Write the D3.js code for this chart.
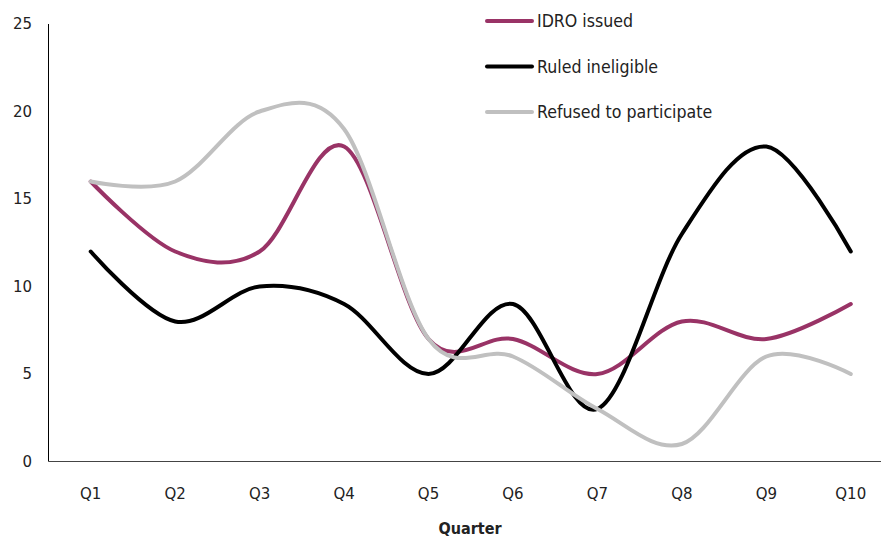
<!DOCTYPE html>
<html>
<head>
<meta charset="utf-8">
<script src="https://cdn.jsdelivr.net/npm/d3@7/dist/d3.min.js"></script>
<style>
  html, body { margin: 0; padding: 0; background: #fff; }
  svg { display: block; }
</style>
</head>
<body>
<svg id="chart" width="881" height="538"></svg>
<script>
// Quarterly counts per outcome
const quarters = ["Q1", "Q2", "Q3", "Q4", "Q5", "Q6", "Q7", "Q8", "Q9", "Q10"];
const idroIssued = [16, 12, 12, 18, 7, 7, 5, 8, 7, 9];
const ruledIneligible = [12, 8, 10, 9, 5, 9, 3, 13, 18, 12];
const refusedToParticipate = [16, 16, 20, 19, 7, 6, 3, 1, 6, 5];
const yTicks = [0, 5, 10, 15, 20, 25];

const seriesList = [
  { name: "IDRO issued", values: idroIssued, color: "#993366" },
  { name: "Ruled ineligible", values: ruledIneligible, color: "#000000" },
  { name: "Refused to participate", values: refusedToParticipate, color: "#c0c0c0" }
];

const svg = d3.select("#chart");
const plot = { left: 48.5, right: 893, top: 24, bottom: 461.5 };

const x = d3.scaleBand().domain(quarters).range([plot.left, plot.right]);
const y = d3.scaleLinear().domain([0, 25]).range([plot.bottom, plot.top]);

// Y axis: line plus plain tick labels
svg.append("line")
  .attr("x1", plot.left).attr("x2", plot.left)
  .attr("y1", plot.top).attr("y2", plot.bottom)
  .attr("stroke", "#000").attr("stroke-width", 1);

svg.append("g").selectAll("text")
  .data(yTicks)
  .join("text")
  .attr("x", 32)
  .attr("y", d => y(d))
  .attr("dy", "0.35em")
  .attr("text-anchor", "end")
  .attr("font-family", "DejaVu Sans")
  .attr("font-size", 15)
  .attr("fill", "#222")
  .text(d => d);

// X axis
svg.append("line")
  .attr("x1", plot.left).attr("x2", plot.right)
  .attr("y1", plot.bottom).attr("y2", plot.bottom)
  .attr("stroke", "#444").attr("stroke-width", 1.2);

svg.append("g").selectAll("text")
  .data(quarters)
  .join("text")
  .attr("x", d => x(d) + x.bandwidth() / 2)
  .attr("y", 499)
  .attr("text-anchor", "middle")
  .attr("font-family", "DejaVu Sans")
  .attr("font-size", 15)
  .attr("fill", "#222")
  .text(d => d);

svg.append("text")
  .attr("x", 470)
  .attr("y", 534)
  .attr("text-anchor", "middle")
  .attr("font-family", "DejaVu Sans Condensed")
  .attr("font-weight", "bold")
  .attr("font-size", 16)
  .attr("fill", "#222")
  .text("Quarter");

// Smoothed series lines, later series drawn on top
const line = d3.line()
  .x((d, i) => x(quarters[i]) + x.bandwidth() / 2)
  .y(d => y(d))
  .curve(d3.curveCardinal.tension(0));

svg.append("g").selectAll("path")
  .data(seriesList)
  .join("path")
  .attr("d", d => line(d.values))
  .attr("fill", "none")
  .attr("stroke", d => d.color)
  .attr("stroke-width", 4)
  .attr("stroke-linecap", "round")
  .attr("stroke-linejoin", "round");

// Legend
const legend = svg.append("g").selectAll("g")
  .data(seriesList)
  .join("g")
  .attr("transform", (d, i) => `translate(487, ${21 + i * 45.5})`);

legend.append("line")
  .attr("x1", 0).attr("x2", 45)
  .attr("stroke", d => d.color)
  .attr("stroke-width", 4)
  .attr("stroke-linecap", "round");

legend.append("text")
  .attr("x", 50)
  .attr("y", 0)
  .attr("dy", "0.35em")
  .attr("font-family", "DejaVu Sans Condensed")
  .attr("font-size", 17.6)
  .attr("fill", "#222")
  .text(d => d.name);
</script>
</body>
</html>
